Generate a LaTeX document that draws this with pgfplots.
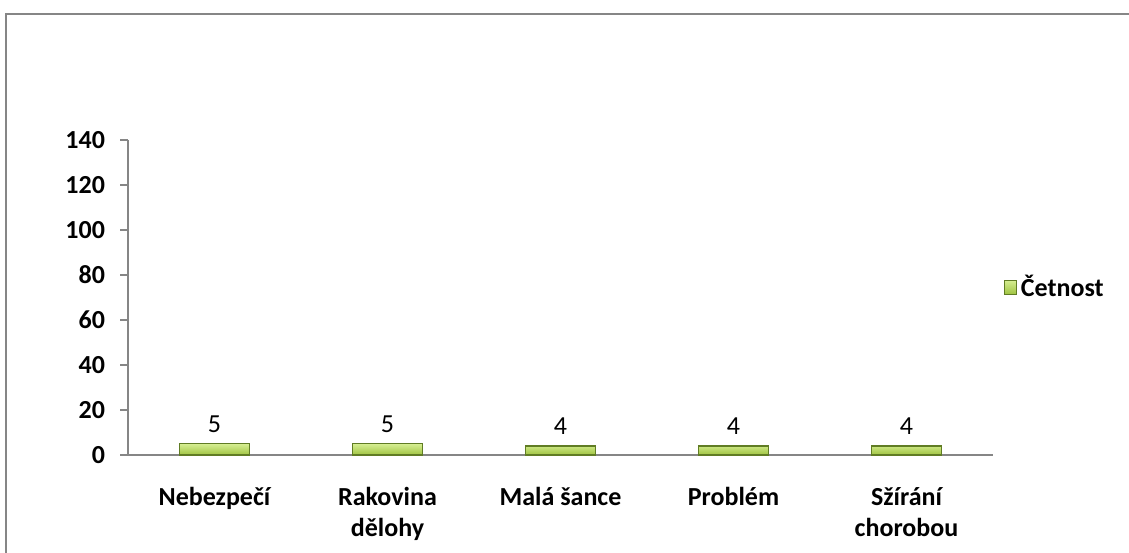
\documentclass[border=0pt]{standalone}
\usepackage{pgfplots}
\pgfplotsset{compat=1.18}
\usepackage{fontspec}
\setmainfont{Carlito}
\definecolor{axgray}{RGB}{134,134,134}
\definecolor{barfill}{RGB}{160,196,66}
\definecolor{bartop}{RGB}{214,238,146}
\definecolor{baredge}{RGB}{96,124,36}
\newcommand{\lblfont}{\fontsize{13}{15.5}\selectfont}

\begin{document}
\begin{tikzpicture}
\useasboundingbox (0,0) rectangle (564.5pt,276pt);
% chart frame (left and top edges; the others lie outside the page)
\draw[axgray, line width=1pt] (3pt,-20pt) -- (3pt,269pt) -- (620pt,269pt);
\begin{axis}[
  at={(64pt,48.5pt)}, anchor=south west,
  scale only axis, width=432.5pt, height=157.5pt,
  xmin=-0.5, xmax=4.5, ymin=0, ymax=140,
  axis x line*=bottom, axis y line*=left,
  axis line style={axgray, line width=0.8pt, -},
  ytick={0,20,...,140},
  xtick={0,1,2,3,4},
  xticklabels={Nebezpečí, {Rakovina\\dělohy}, Malá šance, Problém, {Sžírání\\chorobou}},
  extra x ticks={-0.5,0.5,1.5,2.5,3.5,4.5},
  extra x tick labels={},
  extra x tick style={major tick length=4pt, tick style={axgray, line width=0.8pt}},
  x tick style={draw=none},
  y tick style={axgray, line width=0.8pt},
  major tick length=4pt,
  tick align=outside,
  ticklabel style={font=\lblfont\bfseries},
  /pgf/number format/assume math mode=true,
  xticklabel style={align=center, yshift=-8.5pt},
  yticklabel style={xshift=-4pt},
  ybar, bar width=35pt,
  nodes near coords,
  nodes near coords style={font=\lblfont, text=black, yshift=2pt},
  legend style={at={(1.005,0.533)}, anchor=west, draw=none, fill=none,
    font=\lblfont\bfseries},
  legend image code/.code={\draw[baredge, top color=bartop, bottom color=barfill] (0pt,-3.5pt) rectangle (6pt,3.5pt);},
]
\addplot[draw=baredge, top color=bartop, bottom color=barfill, line width=0.6pt]
  coordinates {(0,5) (1,5) (2,4) (3,4) (4,4)};
\addlegendentry{Četnost}
\end{axis}
\end{tikzpicture}
\end{document}
